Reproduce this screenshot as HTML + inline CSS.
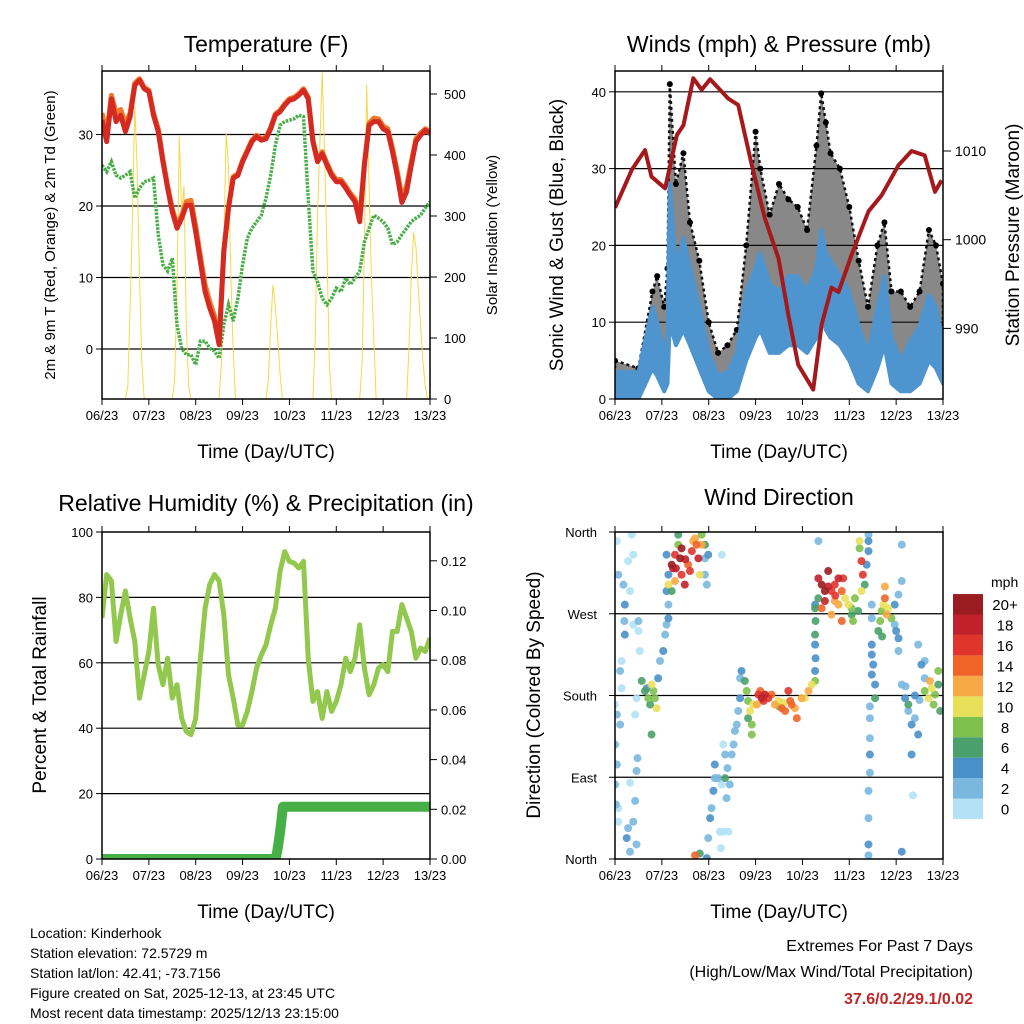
<!DOCTYPE html>
<html><head><meta charset="utf-8"><style>
html,body{margin:0;padding:0;background:#fff;}
svg{display:block;font-family:"Liberation Sans",Arial,sans-serif;}
</style></head><body>
<svg id="chart" width="1024" height="1024" viewBox="0 0 1024 1024" xmlns="http://www.w3.org/2000/svg">
<defs>
<clipPath id="c1"><rect x="102" y="71" width="328" height="328"/></clipPath>
<clipPath id="c2"><rect x="615" y="71" width="328" height="328"/></clipPath>
<clipPath id="c3"><rect x="102" y="532" width="328" height="327"/></clipPath>
<clipPath id="c4"><rect x="615" y="532" width="328" height="327"/></clipPath>
</defs>
<g id="layer"></g>
<text x="266" y="52" font-size="23" text-anchor="middle">Temperature (F)</text>
<text x="779" y="52" font-size="23" text-anchor="middle">Winds (mph) &amp; Pressure (mb)</text>
<text x="266" y="511" font-size="23" text-anchor="middle">Relative Humidity (%) &amp; Precipitation (in)</text>
<text x="779" y="505" font-size="23" text-anchor="middle">Wind Direction</text>
<text x="266" y="458" font-size="19" text-anchor="middle">Time (Day/UTC)</text>
<text x="779" y="458" font-size="19" text-anchor="middle">Time (Day/UTC)</text>
<text x="266" y="918" font-size="19" text-anchor="middle">Time (Day/UTC)</text>
<text x="779" y="918" font-size="19" text-anchor="middle">Time (Day/UTC)</text>
<text transform="translate(55,235) rotate(-90)" font-size="15" text-anchor="middle">2m &amp; 9m T (Red, Orange) &amp; 2m Td (Green)</text>
<text transform="translate(497,235) rotate(-90)" font-size="15" text-anchor="middle">Solar Insolation (Yellow)</text>
<text transform="translate(563,235) rotate(-90)" font-size="19" text-anchor="middle">Sonic Wind &amp; Gust (Blue, Black)</text>
<text transform="translate(1019,235) rotate(-90)" font-size="19" text-anchor="middle">Station Pressure (Maroon)</text>
<text transform="translate(46,695) rotate(-90)" font-size="19" text-anchor="middle">Percent &amp; Total Rainfall</text>
<text transform="translate(540,695) rotate(-90)" font-size="19" text-anchor="middle">Direction (Colored By Speed)</text>
<g font-size="14">
<text x="30" y="938">Location: Kinderhook</text>
<text x="30" y="958">Station elevation: 72.5729 m</text>
<text x="30" y="978">Station lat/lon: 42.41; -73.7156</text>
<text x="30" y="998">Figure created on Sat, 2025-12-13, at 23:45 UTC</text>
<text x="30" y="1018">Most recent data timestamp: 2025/12/13 23:15:00</text>
</g>
<g font-size="16" text-anchor="end">
<text x="973" y="951">Extremes For Past 7 Days</text>
<text x="973" y="977">(High/Low/Max Wind/Total Precipitation)</text>
<text x="973" y="1004" font-weight="bold" fill="#c0282a">37.6/0.2/29.1/0.02</text>
</g>
</svg>
<script>
const dayLabels=["06/23","07/23","08/23","09/23","10/23","11/23","12/23","13/23"];
const t2=[32,29,35,31.8,32.7,30.4,32.5,36.9,37.6,36.4,36,32.7,30.4,26.2,22.5,19.2,16.9,18.3,20.1,20.1,16.4,12.2,8,5.7,3.9,0.6,13.6,19.7,23.9,24.3,26.2,27.6,29,29.7,29.2,29.4,30.8,32.7,33.2,34.1,34.8,35,35.5,36.2,35,29,26.2,27.3,25.7,24.3,23.4,23.4,22.5,21.5,20.6,17.8,25.7,31.3,31.8,31.8,30.8,30.4,27.6,24.3,20.5,22,25.7,29,29.9,30.6,30.1];
const t9=[33,30,35.5,33,33.5,31.5,33,37.2,37.8,36.6,36.2,33,30.8,26.6,22.8,19.6,17.3,18.7,20.6,20.8,17.2,13,9,6.6,4.6,1,13.8,19.9,24.1,24.5,26.4,27.8,29.2,29.9,29.4,29.6,31,32.9,33.4,34.3,35,35.2,35.7,36.4,35.2,29.2,26.5,27.6,26,24.6,23.7,23.7,22.8,21.8,21,18.3,26,31.6,32.3,32.2,31.2,30.8,28.1,24.9,21.3,22.8,26.2,29.4,30.2,30.8,30.4];
const td=[25.7,24.8,26.2,24.3,23.9,24.3,24.8,21.1,22.5,23.4,23.6,23.9,16,11.8,10.9,12.7,3.4,0.1,-0.8,-0.8,-2.2,1.1,1.1,0.1,-0.3,-1.3,3.4,6.2,3.9,7.1,11.8,15.5,16.9,17.8,18.7,21.1,24.3,28.5,31.3,31.8,32,32.2,32.7,32.5,21.1,10.9,9.4,7.1,6.2,7.1,8.5,8,9.9,9,9.9,10.9,15,16.9,18.7,18.3,17.8,16.9,14.6,15,16,16.9,17.8,18.3,18.7,19.7,20.6];
const solar=[0,0,0,0,0,0,0,0,0,0,0,20,150,300,480,380,200,60,0,0,
0,0,0,0,0,0,0,0,0,0,0,30,180,430,300,350,120,20,0,0,
0,0,0,0,0,0,0,0,0,0,0,60,250,436,380,200,80,0,0,0,
0,0,0,0,0,0,0,0,0,0,0,30,120,187,150,100,40,0,0,0,
0,0,0,0,0,0,0,0,0,0,0,100,300,420,536,400,250,60,0,0,
0,0,0,0,0,0,0,0,0,0,0,60,250,515,350,200,100,0,0,0,
0,0,0,0,0,0,0,0,0,0,0,80,200,273,250,180,120,60,20,0,0];
const windTime=[0,0.5,0.8,0.9,1.05,1.12,1.17,1.3,1.46,1.6,1.8,2.0,2.2,2.4,2.6,2.8,3.0,3.1,3.3,3.5,3.7,3.9,4.1,4.3,4.4,4.5,4.6,4.8,5.0,5.2,5.4,5.6,5.75,5.9,6.1,6.3,6.5,6.7,6.85,7.0];
const windSpeed=[3.5,3.5,12,10,6,8,28,17,21,17,12,6,3,3.5,6,14,17,19,15,14,16,16,14,17,22,19,18,16,14,9.5,6,12,16,8,5,7.5,9.5,13.5,12,7];
const windMin=[0,0,4,3,1,2,10,7,9,7,4,1,0,0,1,5,8,9,6,6,7,7,6,8,11,9,8,7,5,2,1,4,7,2,1,1,2,5,4,2];
const gustSpeed=[5,4,14,16,12,17,41,28,32,23,18,10,6,7,9,20,34.8,30,24,28,26,25,22,33,39.8,36,32,30,25,18,12,20,23,14,14,12,14,22,20,15];
const presTime=[0,0.36,0.64,0.78,1.07,1.32,1.46,1.67,1.85,2.03,2.42,2.63,2.92,3.2,3.49,3.7,3.91,4.23,4.41,4.62,4.77,5.05,5.41,5.69,6.05,6.33,6.61,6.83,6.97];
const pressure=[1003.6,1007.9,1010.1,1007.1,1005.8,1011.8,1012.9,1018.2,1016.9,1018.1,1015.9,1015.2,1008.4,1002.4,997.9,991.5,985.9,983.1,990.4,994.6,994.1,998.3,1003.2,1005,1008.4,1010,1009.5,1005.4,1006.7];
const rh=[73.7,87,85,66.5,74.7,82,73.7,66.5,49.2,56.3,63.5,76.7,59.4,53.3,61.4,49.2,53.3,43,39,38,43,61.4,76.7,84,87,85,74.7,56.3,49.2,41,41,45.1,51.2,58.4,62.4,65.5,71.6,76.7,88,94,91,90.5,89,91,61.4,48.2,51.2,43,51.2,45.1,48.2,53.3,61.4,57.3,61.4,71.6,58.4,50.2,53.3,58.4,59.4,57.3,69.6,69.6,77.8,73.7,69.6,61.4,64.5,63.5,67.6];
const precipTime=[0,3.7,3.74,3.78,3.82,3.86,7.0];
const precip=[0,0,0.003,0.008,0.014,0.021,0.021];
const dirTime=[.04,.07,.18,.21,.2,.21,.14,.11,.14,.04,.11,0,.04,0,.07,.07,.25,.28,.32,.36,.39,.28,.32,.39,.5,.5,.53,.46,.43,.48,.46,.43,.39,.46,.32,0,.02,
.57,.64,.71,.78,.85,.89,.82,.68,.78,.96,1.03,1.07,1.1,1.14,1.14,1.1,1.14,1.1,.92,.75,
1.21,1.24,1.28,1.39,1.42,1.49,1.56,1.64,1.67,1.71,1.74,1.78,1.85,1.6,1.42,1.28,1.35,1.35,1.14,1.21,1.81,1.85,1.92,1.92,1.92,1.99,1.96,2.28,1.71,1.81,1.3,1.5,
1.96,1.99,2.03,2.06,2.1,2.13,2.13,2.2,2.28,2.31,2.35,2.24,2.31,2.42,2.38,2.45,2.49,2.53,2.56,2.6,2.63,2.67,2.67,2.7,2.35,2.26,2.4,
2.77,2.81,2.84,2.88,2.92,2.92,2.84,2.95,3.06,3.13,3.2,3.27,3.34,3.03,3.41,3.49,3.56,3.63,3.7,3.74,3.77,3.84,3.88,3.98,4.05,4.13,4.2,4.27,3.17,3.1,3.6,3.5,
4.27,4.28,4.27,4.27,4.28,4.27,4.34,
4.34,4.41,4.48,4.55,4.62,4.69,4.77,4.84,4.87,4.69,4.48,4.41,4.77,4.91,4.98,5.05,4.84,4.62,4.34,4.27,5.12,5.19,5.08,5.05,5.22,5.22,5.26,5.29,5.26,5.33,5.41,5.41,5.41,5.37,4.55,4.7,
5.48,5.48,5.51,5.48,5.55,5.55,5.44,5.44,5.44,5.44,5.44,5.41,5.41,5.41,5.41,5.48,5.48,
5.76,5.76,5.73,5.69,5.66,5.83,5.8,5.9,5.62,5.97,6.0,6.05,6.05,5.97,6.05,6.12,6.12,6.12,5.7,
6.12,6.19,6.26,6.33,6.4,6.47,6.54,6.61,6.33,6.36,6.47,6.61,6.26,6.61,6.69,6.76,6.83,6.9,6.9,6.94,6.72,6.4,6.2,6.5,6.8];
const dirDeg=[350,313,302,280,262,247,218,207,188,159,148,126,104,82,56,41,23,34,8,357,335,328,295,258,262,251,229,177,159,111,97,64,41,16,84,170,60,
196,185,177,192,177,166,185,188,137,218,229,247,258,265,280,295,313,335,199,170,
324,320,335,331,313,302,324,339,350,353,346,331,346,317,342,306,357,346,302,295,313,357,346,331,313,335,302,335,4,6,320,330,
1,23,45,56,75,89,104,89,82,126,115,30,30,30,67,82,115,126,141,148,163,177,199,207,89,12,100,
196,185,174,163,148,137,155,170,181,177,181,177,181,170,170,174,166,163,185,174,170,166,155,177,177,185,192,196,174,185,172,168,
207,221,236,247,262,280,350,
309,302,284,317,295,302,309,295,309,284,295,276,280,287,280,276,262,269,287,276,287,273,262,269,350,342,328,313,295,302,357,350,339,324,300,290,
236,225,214,203,192,177,168,155,133,115,95,75,45,16,4,280,265,
300,287,280,273,262,276,269,265,251,258,251,243,229,280,291,346,306,8,245,
192,177,163,148,155,137,214,199,115,70,236,218,170,185,177,188,181,192,207,163,196,180,190,175,170];
const dirSpeed=[1,2,3,4,3,4,1,2,1,3,2,2,3,2,1,1,4,2,2,0,1,1,1,1,2,1,1,0,1,3,2,2,3,2,1,1,3,
6,7,9,10,9,11,8,5,6,3,4,3,2,4,3,5,4,4,5,6,
20,19,16,20,16,18,14,16,13,12,14,18,13,17,21,12,7,8,10,6,10,8,6,3,3,4,3,1,15,7,18,19,
4,3,4,3,4,3,4,2,1,1,2,0,0,1,2,3,2,2,3,2,3,4,3,4,6,1,3,
7,8,9,10,8,8,7,11,16,18,19,17,14,13,12,11,14,15,17,15,14,13,14,12,11,12,10,9,17,15,10,9,
4,5,4,6,6,5,3,
19,20,18,21,17,16,19,14,17,13,20,15,13,11,10,9,14,13,7,6,8,7,8,7,10,8,16,17,10,6,3,4,4,4,19,16,
4,4,4,4,5,6,2,2,2,4,3,2,2,4,2,3,2,
12,14,11,9,8,10,12,9,7,3,4,4,3,4,3,2,2,4,6,
3,4,3,4,3,4,4,3,4,1,2,2,6,8,10,11,9,7,8,6,12,5,2,3,8];
const speedColors=["#b3e2f6","#7ab8e0","#4a90c8","#4aa06a","#7ec04c","#e9e05a","#f8a945","#f06428","#e0352b","#c2202a","#9b1c20"];
const speedLabels=["0","2","4","6","8","10","12","14","16","18","20+"];
const tempTicks=[0,10,20,30];
const solarTicks=[0,100,200,300,400,500];
const windTicks=[0,10,20,30,40];
const presTicks=[990,1000,1010];
const rhTicks=[0,20,40,60,80,100];
const rainTicks=["0.00","0.02","0.04","0.06","0.08","0.10","0.12"];
const dirLabels=["North","East","South","West","North"];

const NS="http://www.w3.org/2000/svg";
const root=document.getElementById('layer');
function mk(tag,attrs,parent){const e=document.createElementNS(NS,tag);for(const k in attrs)e.setAttribute(k,attrs[k]);(parent||root).appendChild(e);return e;}
const W=328;
function xs(L,d){return L+d*W/7;}
const yT=v=>349-v*7.15, yS=v=>399-v*0.61;
const yW=v=>399-v*7.68, yP=v=>151+(1010-v)*8.87;
const yR=v=>859-v*3.27, yRain=v=>859-v/0.02*49.7;
const yD=v=>859-v/360*327;
function grid(L,ys){ys.forEach(y=>{const g=mk('line',{x1:L,x2:L+W,y1:y,y2:y,stroke:'#000','stroke-width':1.2});

});}
function frame(L,T,H){const r=mk('rect',{x:L,y:T,width:W,height:H,fill:'none',stroke:'#000','stroke-width':1.5});


for(let i=0;i<=7;i++){const x=xs(L,i);mk('line',{x1:x,x2:x,y1:T,y2:T-6,stroke:'#000'});mk('line',{x1:x,x2:x,y1:T+H,y2:T+H+6,stroke:'#000'});
const t=mk('text',{x:x,y:T+H+21,'font-size':13,'text-anchor':'middle'});t.textContent=dayLabels[i];

}}
function lab(x,y,s,anchor,size){const t=mk('text',{x:x,y:y+5,'font-size':size||13,'text-anchor':anchor});t.textContent=s;

return t;}
function path(pts){return pts.map((p,i)=>(i?'L':'M')+p[0].toFixed(1)+','+p[1].toFixed(1)).join('');}

// Panel 1
grid(102,tempTicks.map(yT));
const g1=mk('g',{'clip-path':'url(#c1)'});
const sol=mk('path',{d:path(solar.map((v,i)=>[xs(102,i*0.05),yS(v)])),fill:'none',stroke:'#f5d84a','stroke-width':1},g1);


const tdl=mk('path',{d:path(td.map((v,i)=>[xs(102,i*0.1),yT(v)])),fill:'none',stroke:'#4aae48','stroke-width':3.5,'stroke-dasharray':'2.5 1.2'},g1);


const t9l=mk('path',{d:path(t9.map((v,i)=>[xs(102,i*0.1),yT(v)])),fill:'none',stroke:'#f07a2a','stroke-width':5,'stroke-linejoin':'round'},g1);


const t2l=mk('path',{d:path(t2.map((v,i)=>[xs(102,i*0.1),yT(v)])),fill:'none',stroke:'#d42a22','stroke-width':5,'stroke-linejoin':'round'},g1);


frame(102,71,328);
tempTicks.forEach(v=>{mk('line',{x1:102,x2:96,y1:yT(v),y2:yT(v),stroke:'#000'});lab(93,yT(v),String(v),'end');});
solarTicks.forEach(v=>{mk('line',{x1:430,x2:437,y1:yS(v),y2:yS(v),stroke:'#000'});lab(444,yS(v),String(v),'start');});

// Panel 2
grid(615,windTicks.slice(1).map(yW));
const g2=mk('g',{'clip-path':'url(#c2)'});
const up=windTime.map((d,i)=>[xs(615,d),yW(gustSpeed[i])]);
const mid=windTime.map((d,i)=>[xs(615,d),yW(windSpeed[i])]);
const low=windTime.map((d,i)=>[xs(615,d),yW(windMin[i])]);
const ga=mk('path',{d:path(up.concat(mid.slice().reverse()))+'Z',fill:'#111','fill-opacity':0.5,stroke:'#111','stroke-width':2.5,'stroke-dasharray':'3 3','stroke-linejoin':'round'},g2);


up.forEach(p=>{const c=mk('circle',{cx:p[0],cy:p[1],r:3,fill:'#000'},g2);

});
const wa=mk('path',{d:path(mid.concat(low.slice().reverse()))+'Z',fill:'#4e95d0',stroke:'#4e95d0','stroke-width':4,'stroke-linejoin':'round'},g2);


const pl=mk('path',{d:path(presTime.map((d,i)=>[xs(615,d),yP(pressure[i])])),fill:'none',stroke:'#a5191c','stroke-width':4,'stroke-linejoin':'round'},g2);


frame(615,71,328);
windTicks.forEach(v=>{mk('line',{x1:615,x2:609,y1:yW(v),y2:yW(v),stroke:'#000'});lab(606,yW(v),String(v),'end');});
presTicks.forEach(v=>{mk('line',{x1:943,x2:951,y1:yP(v),y2:yP(v),stroke:'#000'});lab(955,yP(v),String(v),'start',14);});

// Panel 3
grid(102,rhTicks.slice(1,5).map(yR));
const g3=mk('g',{'clip-path':'url(#c3)'});
const rl=mk('path',{d:path(rh.map((v,i)=>[xs(102,i*0.1),yR(v)])),fill:'none',stroke:'#92c84e','stroke-width':5,'stroke-linejoin':'round'},g3);


const prl=mk('path',{d:path(precipTime.map((d,i)=>[xs(102,d),yRain(precip[i])])),fill:'none',stroke:'#46b046','stroke-width':10,'stroke-linecap':'round','stroke-linejoin':'round'},g3);


frame(102,532,327);
rhTicks.forEach(v=>{mk('line',{x1:102,x2:96,y1:yR(v),y2:yR(v),stroke:'#000'});lab(93,yR(v),String(v),'end');});
rainTicks.forEach(s=>{const v=parseFloat(s);mk('line',{x1:430,x2:437,y1:yRain(v),y2:yRain(v),stroke:'#000'});lab(441,yRain(v),s,'start');});

// Panel 4
grid(615,[90,180,270].map(yD));
const g4=mk('g',{'clip-path':'url(#c4)'});
const order=dirSpeed.map((s,i)=>i).sort((a,b)=>dirSpeed[a]-dirSpeed[b]);
order.forEach(i=>{const ci=Math.min(10,Math.floor(dirSpeed[i]/2));
const c=mk('circle',{cx:xs(615,dirTime[i]),cy:yD(dirDeg[i]),r:4,fill:speedColors[ci],'fill-opacity':0.9},g4);

});
frame(615,532,327);
dirLabels.forEach((s,i)=>{const y=yD(i*90);mk('line',{x1:615,x2:609,y1:y,y2:y,stroke:'#000'});lab(597,y,s,'end');});
const mph=mk('text',{x:991,y:587,'font-size':14});mph.textContent='mph';


speedColors.forEach((c,i)=>{const y=819-(i+1)*20.45;
const r=mk('rect',{x:953,y:y,width:30,height:20.45,fill:c});


const t=mk('text',{x:1005,y:y+16,'font-size':15,'text-anchor':'middle'});t.textContent=speedLabels[i];

});
</script>
</body></html>
